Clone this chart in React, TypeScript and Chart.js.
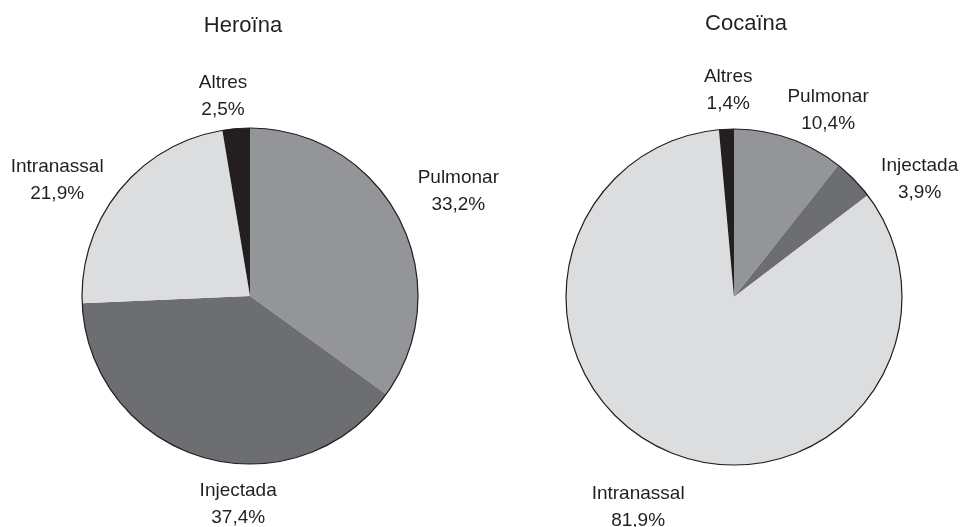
import React, { useEffect, useRef } from "react";
import { Chart, registerables } from "chart.js";

Chart.register(...registerables);

// ---- data ----
const categories = ["Pulmonar", "Injectada", "Intranassal", "Altres"];
const heroinValues = [33.2, 37.4, 21.9, 2.5];
const cocaineValues = [10.4, 3.9, 81.9, 1.4];
const heroinTitle = "Heroïna";
const cocaineTitle = "Cocaïna";

// ---- styles / layout ----
const sliceColors = ["#939598", "#6d6e71", "#dcdddf", "#231f20"];
const textColor = "#231f20";
const FONT = "'Liberation Sans', Arial, Helvetica, sans-serif";
const W = 962;
const H = 527;

const heroinLayout = {
  padding: { left: 19, right: 481, top: 65, bottom: 0 },
  titleDx: -7,
  titleBaseline: 32,
  labelAngleNudge: [0, -13.4, -7.6, -2.9],
  labelDist: [234, 207, 226, 203],
};
const cocaineLayout = {
  padding: { left: 506, right: 0, top: 67, bottom: 0 },
  titleDx: 12,
  titleBaseline: 30,
  labelAngleNudge: [7.3, 11.6, 0.9, 1.0],
  labelDist: [211, 221, 229.5, 209],
};

const fmt = (v: number) => v.toFixed(1).replace(".", ",") + "%";

const pieDecor = {
  id: "pieDecor",
  afterDatasetsDraw(chart: any, _args: any, opts: any) {
    const ctx = chart.ctx;
    const meta = chart.getDatasetMeta(0);
    const values = chart.data.datasets[0].data as number[];
    const labels = chart.data.labels as string[];
    const first = meta.data[0];
    const { x, y, outerRadius } = first.getProps(["x", "y", "outerRadius"], true);
    ctx.save();
    // outer outline
    ctx.beginPath();
    ctx.arc(x, y, outerRadius, 0, Math.PI * 2);
    ctx.lineWidth = 1.2;
    ctx.strokeStyle = textColor;
    ctx.stroke();
    // title
    ctx.fillStyle = textColor;
    ctx.textAlign = "center";
    ctx.textBaseline = "alphabetic";
    ctx.font = `22px ${FONT}`;
    ctx.fillText(opts.title, x + opts.titleDx, opts.titleBaseline);
    // slice labels
    ctx.font = `19px ${FONT}`;
    meta.data.forEach((el: any, i: number) => {
      const { startAngle, endAngle } = el.getProps(["startAngle", "endAngle"], true);
      const mid = (startAngle + endAngle) / 2 + (opts.labelAngleNudge[i] * Math.PI) / 180;
      const d = opts.labelDist[i];
      const cx = x + Math.cos(mid) * d;
      const cy = y + Math.sin(mid) * d;
      ctx.fillText(labels[i], cx, cy - 13.5 + 7);
      ctx.fillText(fmt(values[i]), cx, cy + 13.5 + 7);
    });
    ctx.restore();
  },
};

function PieChart({ values, title, layout }: { values: number[]; title: string; layout: any }) {
  const ref = useRef<HTMLCanvasElement | null>(null);
  useEffect(() => {
    if (!ref.current) return;
    const chart = new Chart(ref.current, {
      type: "pie",
      data: {
        labels: categories,
        datasets: [
          {
            data: values,
            backgroundColor: sliceColors,
            borderWidth: 0,
          },
        ],
      },
      options: {
        responsive: false,
        animation: false,
        radius: 168,
        layout: { padding: layout.padding },
        plugins: {
          legend: { display: false },
          tooltip: { enabled: false },
          title: { display: false },
          pieDecor: {
            title,
            titleDx: layout.titleDx,
            titleBaseline: layout.titleBaseline,
            labelAngleNudge: layout.labelAngleNudge,
            labelDist: layout.labelDist,
          },
        } as any,
      } as any,
      plugins: [pieDecor as any],
    });
    return () => chart.destroy();
  }, [values, title, layout]);
  return (
    <canvas
      ref={ref}
      width={W}
      height={H}
      style={{ display: "block", position: "absolute", left: 0, top: 0 }}
    />
  );
}

export default function App() {
  return (
    <div
      style={{
        position: "absolute",
        left: 0,
        top: 0,
        width: W,
        height: H,
        background: "#ffffff",
      }}
    >
      <PieChart values={heroinValues} title={heroinTitle} layout={heroinLayout} />
      <PieChart values={cocaineValues} title={cocaineTitle} layout={cocaineLayout} />
    </div>
  );
}
